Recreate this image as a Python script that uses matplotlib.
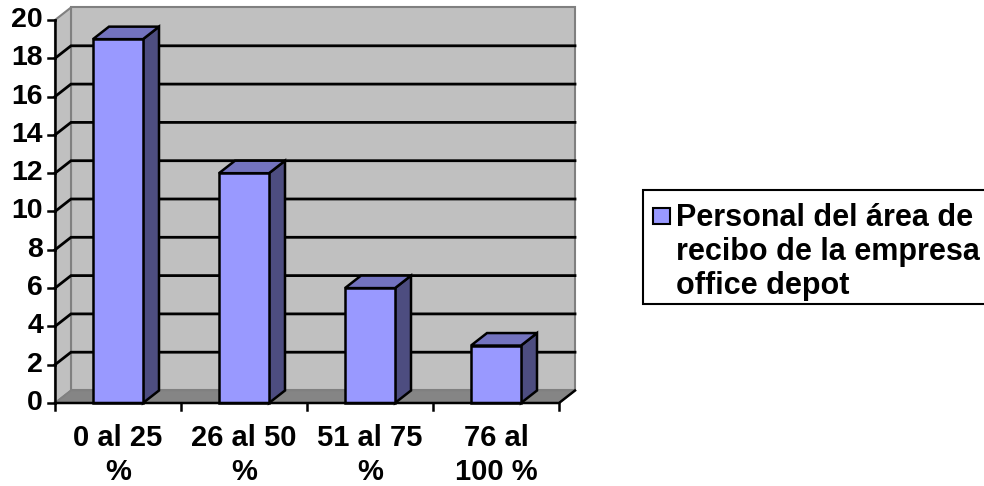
import matplotlib.pyplot as plt
from matplotlib.patches import Polygon, Rectangle

# datos del gráfico
categorias = ["0 al 25\n%", "26 al 50\n%", "51 al 75\n%", "76 al\n100 %"]
valores = [19, 12, 6, 3]
serie = "Personal del área de\nrecibo de la empresa\noffice depot"
marcas_y = list(range(0, 21, 2))

plt.rcParams['font.family'] = ['Liberation Sans', 'DejaVu Sans']

W, H = 984, 486
fig = plt.figure(figsize=(W / 100, H / 100), dpi=100)
# eje frontal: x 55..559 px, y 403..20 px
x0, x1, y0, y1 = 55, 559, 403, 20
ax = fig.add_axes([x0 / W, 1 - y0 / H, (x1 - x0) / W, (y0 - y1) / H])
n = len(categorias)
ymax = 20
ax.set_xlim(0, n)
ax.set_ylim(0, ymax)
ax.axis('off')

# profundidad del efecto 3D en unidades de datos
px_x = (x1 - x0) / n
px_y = (y0 - y1) / ymax
dx = 16 / px_x
dy = 12.5 / px_y

gris_pared = '#c0c0c0'
gris_borde = '#808080'
gris_piso = '#858585'


def poly(pts, fc, ec, lw, z):
    ax.add_patch(Polygon(pts, closed=True, facecolor=fc, edgecolor=ec,
                         linewidth=lw, zorder=z, clip_on=False,
                         joinstyle='miter'))


# paredes y piso
poly([(dx, dy), (n + dx, dy), (n + dx, ymax + dy), (dx, ymax + dy)],
     gris_pared, gris_borde, 1.5, 1)
poly([(0, 0), (dx, dy), (dx, ymax + dy), (0, ymax)],
     gris_pared, gris_borde, 1.5, 1)
poly([(0, 0), (n, 0), (n + dx, dy), (dx, dy)], gris_piso, gris_borde, 1.2, 2)

# líneas de división
for v in marcas_y[1:-1]:
    ax.plot([0, dx, n + dx], [v, v + dy, v + dy], color='black', lw=2,
            zorder=3, clip_on=False, solid_joinstyle='miter')

# barras
ancho = 50 / px_x
for i, v in enumerate(valores):
    a = i + 0.5 - ancho / 2
    b = i + 0.5 + ancho / 2
    poly([(b, 0), (b + dx, dy), (b + dx, v + dy), (b, v)], '#4d4d80', 'black', 1.8, 5)
    poly([(a, v), (b, v), (b + dx, v + dy), (a + dx, v + dy)], '#7373bf', 'black', 1.8, 5)
    poly([(a, 0), (b, 0), (b, v), (a, v)], '#9999ff', 'black', 1.8, 6)

# ejes
tk_y = 7 / px_x
tk_x = 7 / px_y
ax.plot([0, 0], [0, ymax], color='black', lw=1.8, zorder=7, clip_on=False)
ax.plot([0, n, n + dx], [0, 0, dy], color='black', lw=1.8, zorder=7,
        clip_on=False, solid_joinstyle='miter')
for v in marcas_y:
    ax.plot([-tk_y, 0], [v, v], color='black', lw=1.8, zorder=7, clip_on=False)
    ax.text(-tk_y - 5 / px_x, v, str(v), ha='right', va='center',
            fontsize=20.5, fontweight='bold')
for i in range(n + 1):
    ax.plot([i, i], [0, -tk_x], color='black', lw=1.8, zorder=7, clip_on=False)
for i, c in enumerate(categorias):
    ax.text(i + 0.5, -21 / px_y, c, ha='center', va='top', fontsize=21,
            fontweight='bold', linespacing=1.28)

# leyenda
fig.patches.append(Rectangle((643 / W, 1 - 304 / H), 360 / W, 114 / H,
                             transform=fig.transFigure, facecolor='white',
                             edgecolor='black', linewidth=1.5))
fig.patches.append(Rectangle((653 / W, 1 - 224 / H), 17 / W, 16 / H,
                             transform=fig.transFigure, facecolor='#9999ff',
                             edgecolor='black', linewidth=1.5))
fig.text(676 / W, 1 - 203 / H, serie, ha='left', va='top', fontsize=22,
         fontweight='bold', linespacing=1.17)

fig.savefig('out.png', dpi=100, facecolor='white')
